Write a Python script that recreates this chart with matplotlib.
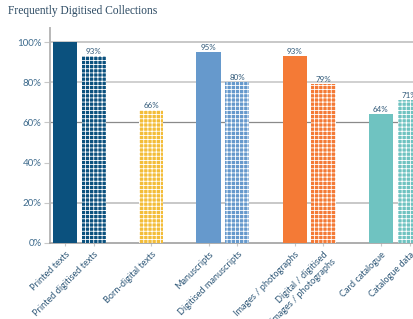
import matplotlib
matplotlib.use("Agg")
import matplotlib.pyplot as plt

categories = ["Printed texts", "Printed digitised texts", "Born-digital texts",
              "Manuscripts", "Digitised manuscripts", "Images / photographs",
              "Digital / digitised\nimages / photographs", "Card catalogue", "Catalogue data"]
values = [100, 93, 66, 95, 80, 93, 79, 64, 71]
shown_labels = ["", "93%", "66%", "95%", "80%", "93%", "79%", "64%", "71%"]
positions = [0, 1, 3, 5, 6, 8, 9, 11, 12]
colors = ["#0b517e", "#0b517e", "#f3bd3a", "#6699cc", "#6699cc",
          "#f47a36", "#f47a36", "#6fc3c1", "#6fc3c1"]
hatched = [False, True, True, False, True, False, True, False, True]

plt.rcParams["font.family"] = ["Lato", "DejaVu Sans"]
plt.rcParams["hatch.linewidth"] = 0.6

fig = plt.figure(figsize=(4.14, 3.19), dpi=100)
ax = fig.add_axes([50 / 414, 76 / 319, 374 / 414, 215 / 319])

text_col = "#2f5878"
for p, v, c, h, lab in zip(positions, values, colors, hatched, shown_labels):
    if h:
        ax.bar(p, v / 100, width=0.84, color=c, edgecolor="white", hatch="++++", linewidth=0, zorder=3)
    else:
        ax.bar(p, v / 100, width=0.84, color=c, linewidth=0, zorder=3)
    if lab:
        ax.text(p, v / 100 + 0.005, lab, ha="center", va="bottom", fontsize=5.8, color=text_col, zorder=4)

ax.set_xlim(-0.52, 12.5)
ax.set_ylim(0, 1.07)
for y, col, lw in [(0.2, "#c8c8c8", 1.4), (0.6, "#8a8a8a", 0.9), (0.8, "#d0d0d0", 1.4), (1.0, "#c8c8c8", 1.4)]:
    ax.axhline(y, color=col, lw=lw, zorder=1)

ax.set_yticks([0, 0.2, 0.4, 0.6, 0.8, 1.0])
ax.set_yticklabels(["0%", "20%", "40%", "60%", "80%", "100%"], fontsize=7, color="#3d6a8c")
ax.set_xticks(positions)
ax.set_xticklabels(categories, rotation=45, ha="right", rotation_mode="anchor", fontsize=6.6, color=text_col)
ax.tick_params(axis="y", length=4, color="#c8c8c8", pad=2)
ax.tick_params(axis="x", length=2, color="#c8c8c8", pad=3)

for s in ["top", "right"]:
    ax.spines[s].set_visible(False)
ax.spines["left"].set_color("#b8b8b8")
ax.spines["left"].set_linewidth(1.4)
ax.spines["bottom"].set_color("#a0a0a0")
ax.spines["bottom"].set_linewidth(1.2)

fig.text(8 / 414, 1 - 11 / 319, "Frequently Digitised Collections", family=["Liberation Serif", "DejaVu Serif"],
         fontsize=8.3, color="#2c4a63", ha="left", va="center")

fig.savefig("out.png", dpi=100)
